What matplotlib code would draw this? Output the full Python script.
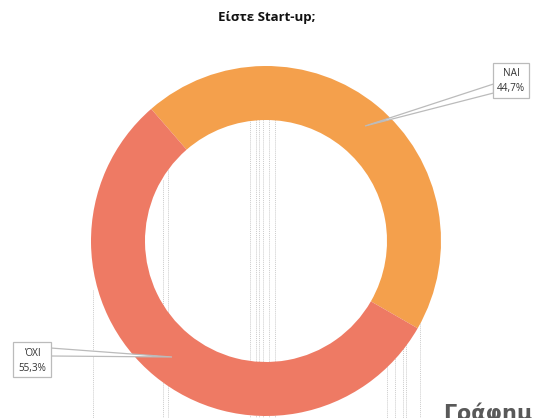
import matplotlib
matplotlib.use("Agg")
import matplotlib.pyplot as plt
from matplotlib.patches import Polygon, Rectangle

# data
categories = ["NAI", "ΌΧΙ"]
values = [44.7, 55.3]
colors = ["#F4A04C", "#EE7A64"]
title = "Είστε Start-up;"
caption = "Γράφημ"

W, H = 533, 418
fig = plt.figure(figsize=(W / 100, H / 100), dpi=100)
ax = fig.add_axes([0, 0, 1, 1])
ax.set_xlim(0, W)
ax.set_ylim(0, H)
ax.set_aspect("equal")
ax.axis("off")

def Y(py):
    return H - py

# faint vertical dotted artifacts behind the donut
vlines = [(93, 290), (163, 180), (168, 170), (250, 110), (256, 110), (259, 110),
          (263, 110), (269, 110), (275, 110), (387, 300), (395, 300),
          (403, 300), (406, 300), (420, 320)]
for x, y0 in vlines:
    ax.plot([x, x], [Y(y0), Y(H)], color="#CCCCCC", lw=0.7, ls=(0, (1, 1)), zorder=1)

cx, cy, R = 266, Y(241), 175
wedges, _ = ax.pie(values, colors=colors, startangle=131, counterclock=False,
                   radius=R, center=(cx, cy), frame=True,
                   wedgeprops=dict(width=54, edgecolor="none", zorder=2))
ax.set_xlim(0, W)
ax.set_ylim(0, H)
ax.axis("off")

ax.text(267, Y(18), title, ha="center", va="center", fontsize=9.5,
        fontweight="bold", family="Open Sans", color="#111111")

def callout(box, p1, p2, tip, lines):
    x0, y0, x1, y1 = box
    poly = Polygon([(p1[0], Y(p1[1])), (tip[0], Y(tip[1])), (p2[0], Y(p2[1]))],
                   closed=True, facecolor="white", edgecolor="#BBBBBB", lw=0.9, zorder=5)
    ax.add_patch(poly)
    rect = Rectangle((x0, Y(y1)), x1 - x0, y1 - y0, facecolor="white",
                     edgecolor="#BBBBBB", lw=0.9, zorder=6)
    ax.add_patch(rect)
    xc = (x0 + x1) / 2
    ax.text(xc, Y(y0 + 11), lines[0], ha="center", va="center", fontsize=7.2,
            color="#333333", family="Open Sans", zorder=7)
    ax.text(xc, Y(y0 + 26), lines[1], ha="center", va="center", fontsize=7.2,
            color="#333333", family="Open Sans", zorder=7)

def fmt(v):
    return f"{v:.1f}%".replace(".", ",")

callout((493, 63, 529, 98), (493.5, 84), (493.5, 93), (365, 126),
        [categories[0], fmt(values[0])])
callout((13, 342, 51, 377), (50.5, 348), (50.5, 356), (172, 357),
        [categories[1], fmt(values[1])])

ax.text(443, Y(420), caption, ha="left", va="baseline", fontsize=15,
        fontweight="bold", family="DejaVu Sans", color="#595959", zorder=8)

fig.savefig("out.png", dpi=100, facecolor="white")
